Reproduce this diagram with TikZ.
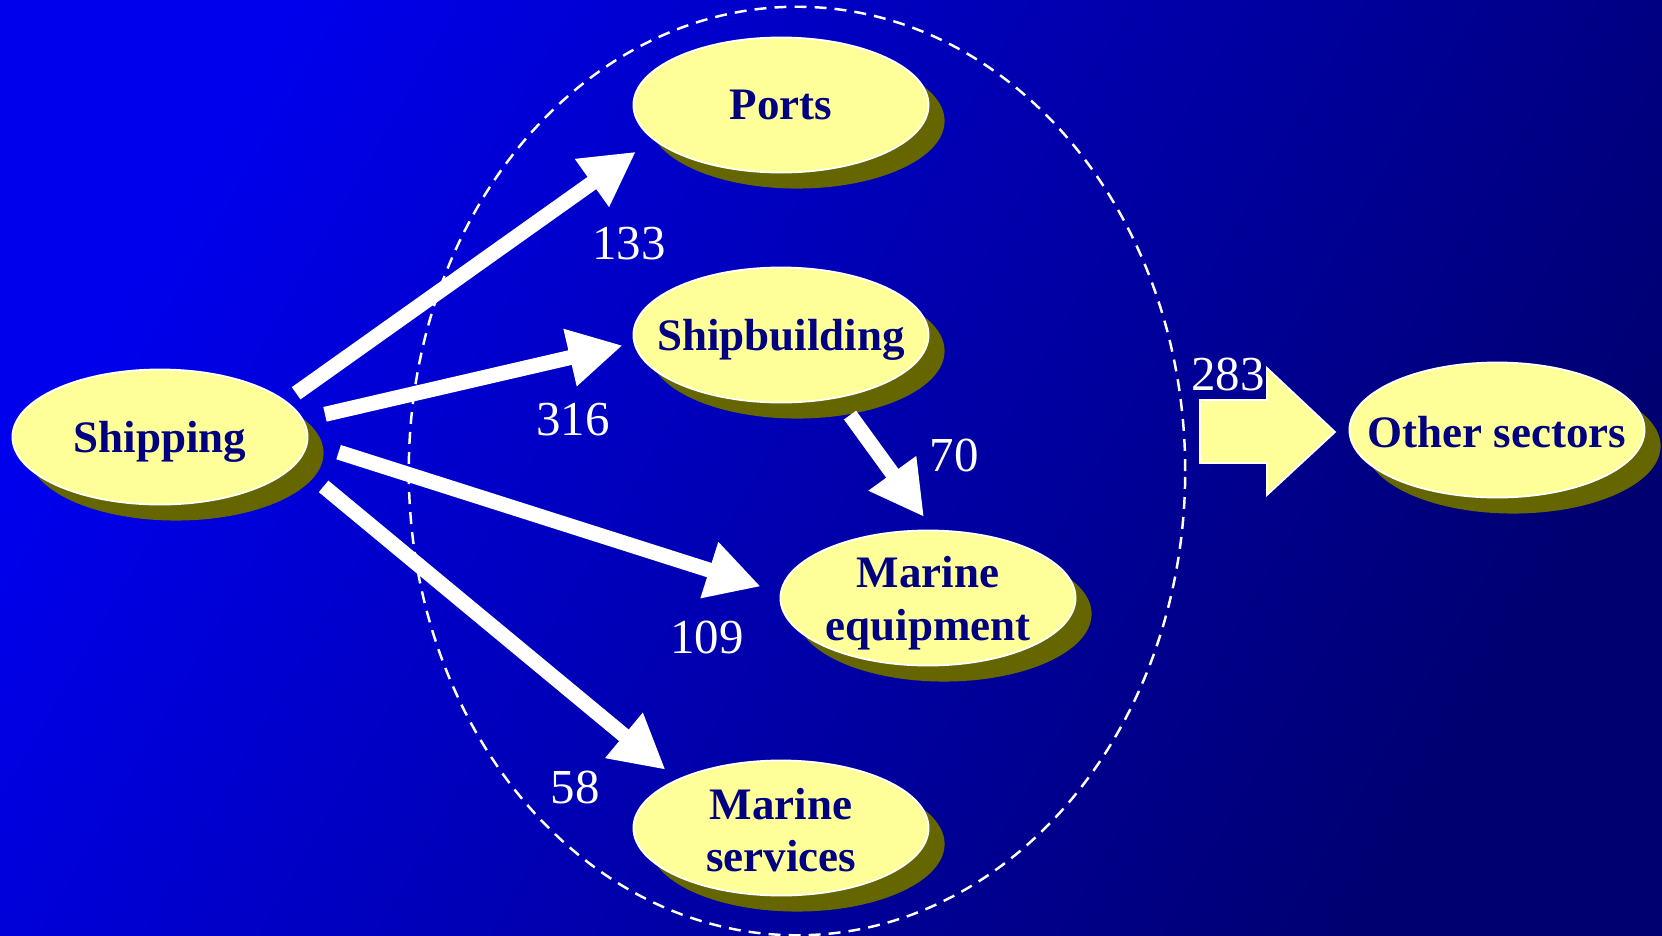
\documentclass[tikz,border=0pt]{standalone}
\usepackage{fontspec}
\setmainfont{Liberation Serif}
\usetikzlibrary{arrows.meta,shapes.geometric,shadows}

\definecolor{bgtop}{RGB}{0,0,236}
\definecolor{bgbottom}{RGB}{0,0,112}
\definecolor{bubblefill}{RGB}{255,255,153}
\definecolor{bubbleshadow}{RGB}{102,102,0}
\definecolor{labelcolor}{RGB}{0,0,128}

\begin{document}
\begin{tikzpicture}[x=0.01cm, y=-0.01cm,
  bubble/.style={ellipse, draw=white, line width=0.5pt, fill=bubblefill,
    minimum width=2.95cm, minimum height=1.35cm, inner sep=0pt, outer sep=0pt,
    drop shadow={shadow xshift=0.16cm, shadow yshift=-0.16cm, fill=bubbleshadow, opacity=1}},
  bubbletext/.style={text=labelcolor, font=\fontsize{12.8}{15}\selectfont\bfseries, align=center},
  lowtext/.style={bubbletext, yshift=-0.05cm},
  flow/.style={draw=white, line width=0.15cm, -{Triangle[length=0.54cm, width=0.55cm]}},
  amount/.style={text=white, font=\fontsize{13.9}{16}\selectfont}]

  % Background
  \useasboundingbox (0,0) rectangle (1662,936);
  \shade[top color=bgtop, bottom color=bgbottom, shading angle=60] (0,0) rectangle (1662,936);

  % Dashed ring round the marine cluster
  \draw[white, line width=0.7pt, dash pattern=on 3.4pt off 2.3pt] (797,471) ellipse [x radius=3.88cm, y radius=4.64cm];

  % Sectors
  \node[bubble, label={[lowtext]center:Shipping}] (shipping) at (160,437) {};
  \node[bubble, label={[bubbletext]center:Ports}] (ports) at (781,105) {};
  \node[bubble, label={[lowtext]center:Shipbuilding}] (shipbuilding) at (781,335) {};
  \node[bubble, label={[lowtext]center:Marine\\equipment}] (equipment) at (928,598) {};
  \node[bubble, label={[bubbletext, yshift=-0.02cm]center:Marine\\services}] (services) at (781,828) {};
  \node[bubble, label={[bubbletext, yshift=-0.02cm]center:Other sectors}] (other) at (1497,430) {};

  % Flows
  \draw[flow, shorten <=0.136cm, shorten >=0.217cm] (shipping.16.9) -- (ports.195.3);
  \draw[flow, shorten <=0.23cm, shorten >=0.12cm] (shipping.7.7) -- (shipbuilding.183.3);
  \draw[flow, shorten <=0.33cm, shorten >=0.21cm] (shipping.358.9) -- (equipment.178.3);
  \draw[flow, shorten <=0.36cm, shorten >=0.157cm] (shipping.349.8) -- (services.155.3);
  \draw[flow, shorten <=0.218cm, shorten >=0.167cm] (shipbuilding.312) -- (equipment.85.1);

  % Block arrow to the other sectors
  \draw[white, line width=0.5pt, fill=bubblefill] (1200,400) -- (1267,400) -- (1267,368) -- (1335,432)
    -- (1267,495) -- (1267,463) -- (1200,463) -- cycle;

  % Amounts
  \node[amount] (n133) at (629,244) {133};
  \node[amount] (n316) at (573,420) {316};
  \node[amount] (n109) at (707,637) {109};
  \node[amount] (n58) at (575,787) {58};
  \node[amount] (n70) at (954,455) {70};
  \node[amount] (n283) at (1228,374) {283};
\end{tikzpicture}
\end{document}
